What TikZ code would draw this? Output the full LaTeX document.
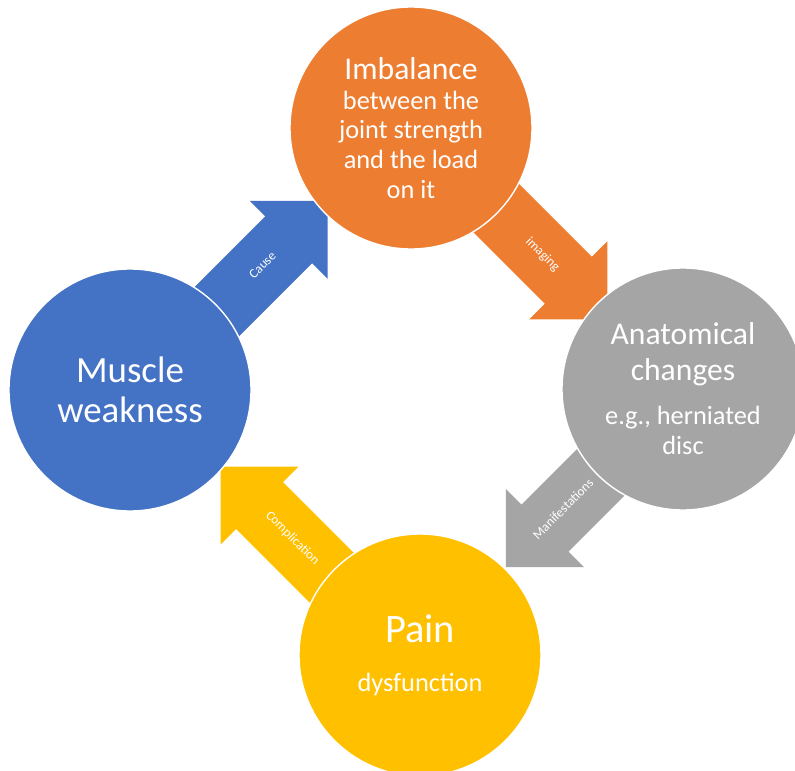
\documentclass[tikz,border=0pt]{standalone}
\usepackage{fontspec}
\setmainfont{Carlito}
\usepackage{tikz}
\usetikzlibrary{backgrounds,calc,positioning,shapes.arrows}
\definecolor{officeorange}{RGB}{237,125,49}
\definecolor{officegrey}{RGB}{165,165,165}
\definecolor{officegold}{RGB}{255,192,0}
\definecolor{officeblue}{RGB}{68,114,196}
\newcommand{\headtext}{\fontsize{18}{20}\selectfont}
\newcommand{\subtext}{\fontsize{15}{17}\selectfont}
\newcommand{\tippad}[1]{\hspace*{#1}}
\tikzset{
  stage/.style={
    circle,
    draw=white,
    line width=0.8pt,
    minimum size=4.84cm,
    inner sep=0pt,
    align=center,
    text=white
  },
  orangestage/.style={stage, fill=officeorange},
  greystage/.style={stage, fill=officegrey},
  goldstage/.style={stage, fill=officegold},
  bluestage/.style={stage, fill=officeblue},
  cyclearrow/.style={
    single arrow,
    minimum width=2.2cm,
    minimum height=3.4cm,
    single arrow head extend=0.44cm,
    inner xsep=0pt,
    inner ysep=15.2pt,
    text height=5.5pt,
    text depth=1.5pt,
    text=white,
    font=\fontsize{7.5}{9}\selectfont
  }
}

\begin{document}
\begin{tikzpicture}
  \useasboundingbox (0,0) rectangle (15.9,-15.42);

  \node[orangestage, font=\subtext] (imbalance) at (8.22,-2.56)
    {{\headtext Imbalance}\\between the\\joint strength\\and the load\\on it};
  \node[greystage, font=\subtext] (anatomical) at (13.66,-7.78)
    {{\headtext Anatomical}\\[3pt]{\headtext changes}\\[8.5pt]e.g., herniated\\disc};
  \node[goldstage, font=\subtext] (pain) at (8.4,-13.1)
    {{\fontsize{23}{25}\selectfont Pain}\\[11pt]dysfunction};
  \node[bluestage, font=\fontsize{21}{23}\selectfont] (muscle) at (2.6,-7.8)
    {Muscle\\weakness};

  \begin{scope}[on background layer]
    \node[cyclearrow, fill=officeblue, rotate=45] (cause)
      at ($(muscle.center)!0.448!(imbalance.center)$) {\tippad{0.4cm}Cause};
    \node[cyclearrow, fill=officeorange, rotate=-45] (imaging)
      at ($(imbalance.center)!0.458!(anatomical.center)$) {\tippad{0.4cm}imaging};
    \node[cyclearrow, fill=officegrey, rotate=45, shape border rotate=180] (manifest)
      at ($(anatomical.center)!0.40!(pain.center)$) {Manifestations\tippad{0.8cm}};
    \node[cyclearrow, fill=officegold, rotate=-45, shape border rotate=180] (complication)
      at ($(pain.center)!0.44!(muscle.center)$) {Complication};
  \end{scope}
\end{tikzpicture}
\end{document}
